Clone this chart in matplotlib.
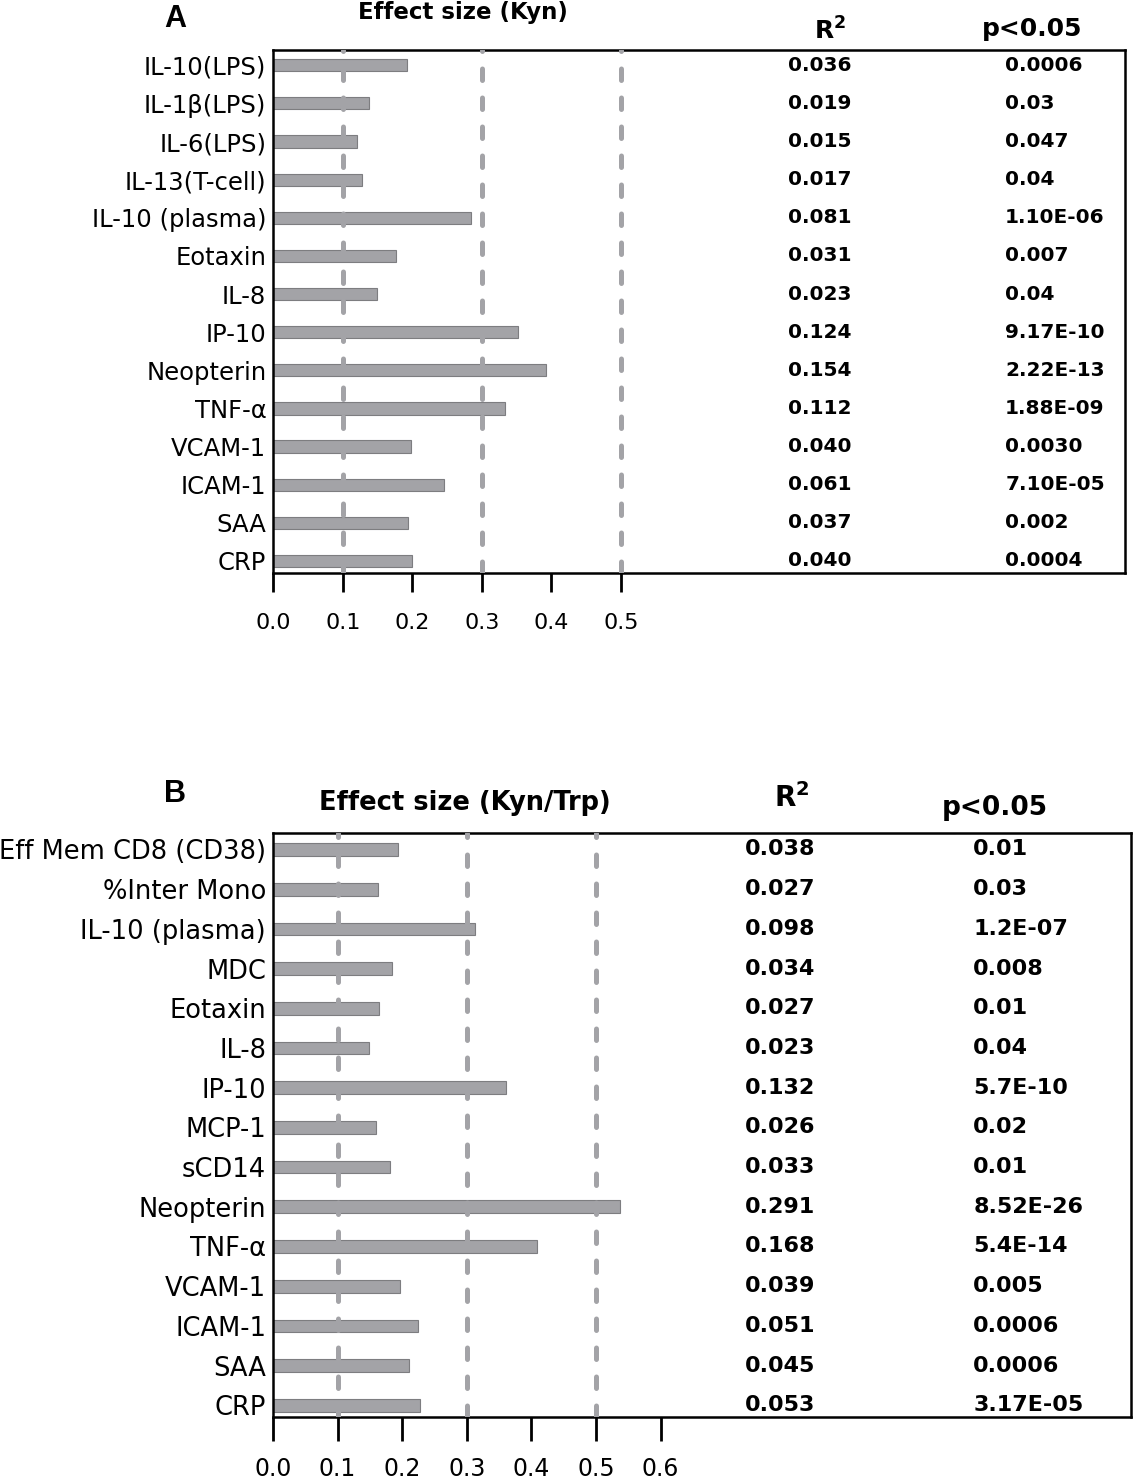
import matplotlib
matplotlib.use("Agg")
import matplotlib.pyplot as plt

# panel A: effect size (Kyn)
labels_a = ['IL-10(LPS)', 'IL-1β(LPS)', 'IL-6(LPS)', 'IL-13(T-cell)', 'IL-10 (plasma)',
            'Eotaxin', 'IL-8', 'IP-10', 'Neopterin', 'TNF-α', 'VCAM-1', 'ICAM-1', 'SAA', 'CRP']
effect_a = [0.192, 0.138, 0.120, 0.128, 0.285, 0.176, 0.149, 0.352, 0.393, 0.334,
            0.198, 0.246, 0.194, 0.199]
r2_a = ['0.036', '0.019', '0.015', '0.017', '0.081', '0.031', '0.023', '0.124', '0.154',
        '0.112', '0.040', '0.061', '0.037', '0.040']
p_a = ['0.0006', '0.03', '0.047', '0.04', '1.10E-06', '0.007', '0.04', '9.17E-10',
       '2.22E-13', '1.88E-09', '0.0030', '7.10E-05', '0.002', '0.0004']
ticks_a = [0.0, 0.1, 0.2, 0.3, 0.4, 0.5]

# panel B: effect size (Kyn/Trp)
labels_b = ['Eff Mem CD8 (CD38)', '%Inter Mono', 'IL-10 (plasma)', 'MDC', 'Eotaxin', 'IL-8',
            'IP-10', 'MCP-1', 'sCD14', 'Neopterin', 'TNF-α', 'VCAM-1', 'ICAM-1', 'SAA', 'CRP']
effect_b = [0.194, 0.163, 0.312, 0.184, 0.164, 0.148, 0.361, 0.159, 0.181, 0.537, 0.409,
            0.196, 0.224, 0.210, 0.228]
r2_b = ['0.038', '0.027', '0.098', '0.034', '0.027', '0.023', '0.132', '0.026', '0.033',
        '0.291', '0.168', '0.039', '0.051', '0.045', '0.053']
p_b = ['0.01', '0.03', '1.2E-07', '0.008', '0.01', '0.04', '5.7E-10', '0.02', '0.01',
       '8.52E-26', '5.4E-14', '0.005', '0.0006', '0.0006', '3.17E-05']
ticks_b = [0.0, 0.1, 0.2, 0.3, 0.4, 0.5, 0.6]

ref_lines = [0.1, 0.3, 0.5]

W, H = 1134, 1480
fig = plt.figure(figsize=(W / 100, H / 100), dpi=100)


def px_axes(l, t, r, b):
    return fig.add_axes([l / W, 1 - b / H, (r - l) / W, (b - t) / H])


def panel(ax, labels, vals, r2, pv, ticks, xmax, ylim, col_r2, col_p, lab_size, tick_size,
          val_size, tick_len, tick_pad):
    n = len(labels)
    pos = list(range(n))
    ax.barh(pos, vals, height=0.32, color='#a3a3a7', edgecolor='#7d7d80', linewidth=0.8,
            zorder=2)
    for v in ref_lines:
        ax.axvline(v, color='#a3a3a7', lw=3.6, linestyle=(0, (2.3, 3.5)),
                   dash_capstyle='round', zorder=3)
    ax.set_xlim(0, xmax)
    ax.set_ylim(*ylim)
    ax.set_yticks(pos)
    ax.set_yticklabels(labels, fontsize=lab_size)
    ax.tick_params(axis='y', length=0, pad=5)
    ax.set_xticks(ticks)
    ax.set_xticklabels(['%.1f' % t for t in ticks], fontsize=tick_size)
    ax.tick_params(axis='x', direction='out', length=tick_len, width=2.0, pad=tick_pad)
    for s in ax.spines.values():
        s.set_linewidth(1.8)
    for i in pos:
        ax.text(col_r2, i, r2[i], fontsize=val_size, fontweight='bold', va='center', ha='left')
        ax.text(col_p, i, pv[i], fontsize=val_size, fontweight='bold', va='center', ha='left')


ax_a = px_axes(273.3, 50, 1125, 573)
panel(ax_a, labels_a, effect_a, r2_a, p_a, ticks_a, (1125 - 273.3) / 695,
      (13.315, -0.40), 0.74, 1.053, 17.5, 16, 14.5, 13.5, 15)

ax_b = px_axes(273, 833, 1131, 1417)
panel(ax_b, labels_b, effect_b, r2_b, p_b, ticks_b, (1131 - 273) / 646,
      (14.295, -0.415), 0.731, 1.084, 18.5, 17, 16, 17, 12)


def ftext(x, y, s, **kw):
    fig.text(x / W, 1 - y / H, s, **kw)


# panel A headings
ftext(175, 19, 'A', fontsize=22, fontweight='bold', ha='center', va='center',
      family='Liberation Sans')
ftext(463, 13, 'Effect size (Kyn)', fontsize=16.5, fontweight='bold', ha='center',
      va='center')
ftext(830, 31, r'R$^\mathbf{2}$', fontsize=18, fontweight='bold', ha='center', va='center')
ftext(1032, 29, 'p<0.05', fontsize=18, fontweight='bold', ha='center', va='center')

# panel B headings
ftext(175, 794, 'B', fontsize=22, fontweight='bold', ha='center', va='center',
      family='Liberation Sans')
ftext(465, 803, 'Effect size (Kyn/Trp)', fontsize=18.5, fontweight='bold', ha='center',
      va='center')
ftext(792, 798, r'R$^\mathbf{2}$', fontsize=20, fontweight='bold', ha='center', va='center')
ftext(995, 808, 'p<0.05', fontsize=19, fontweight='bold', ha='center', va='center')

fig.savefig('out.png', dpi=100)
